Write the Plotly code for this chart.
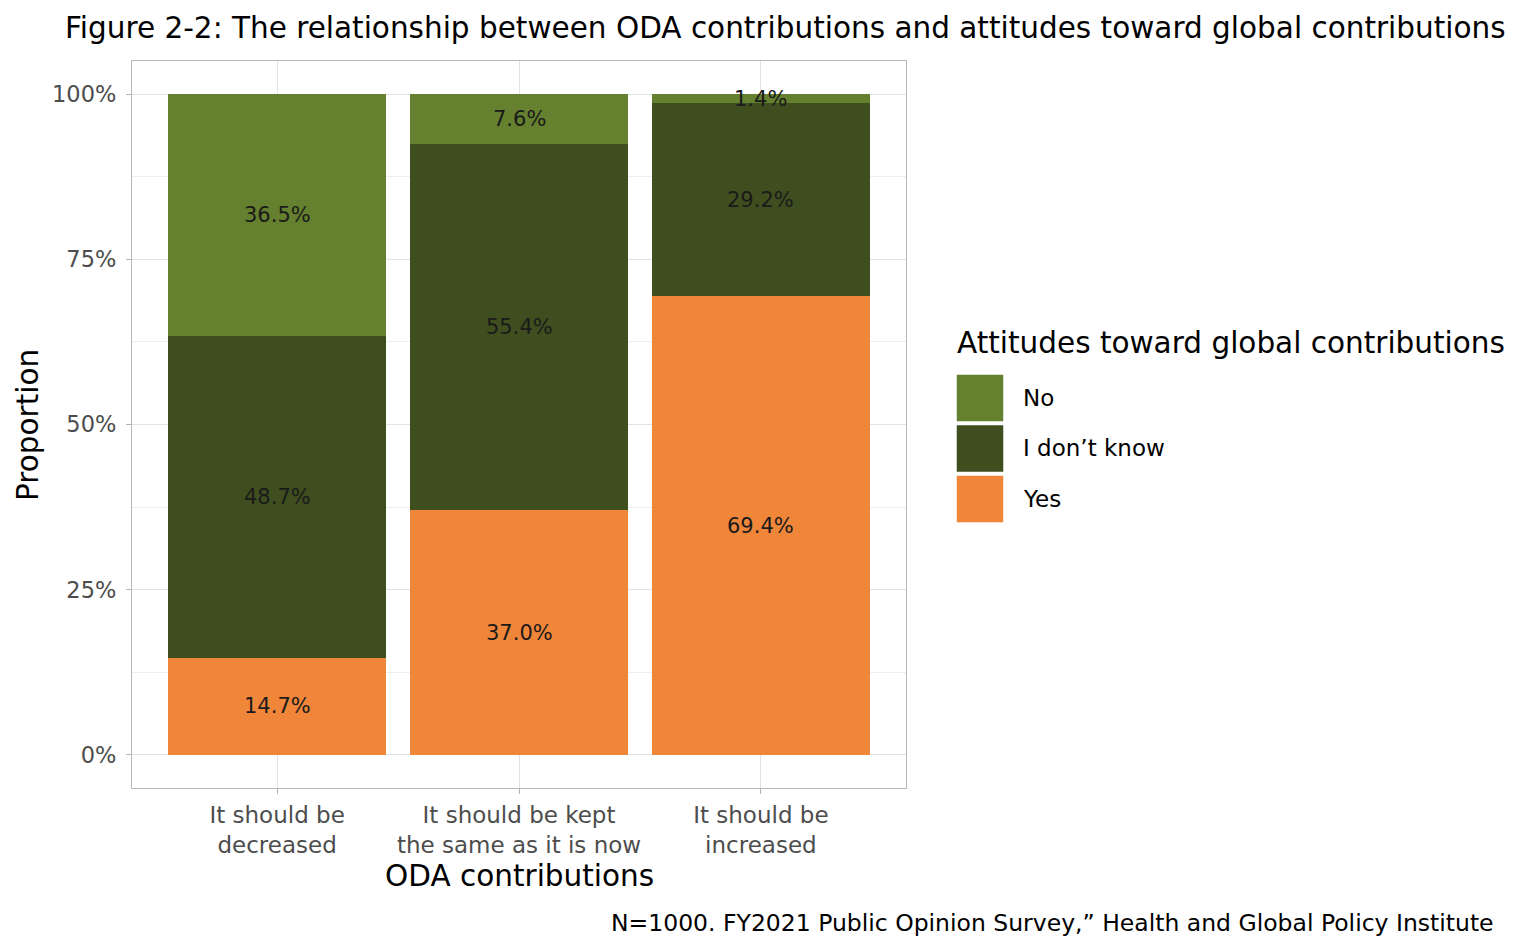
import plotly.graph_objects as go

categories = ["It should be<br>decreased", "It should be kept<br>the same as it is now", "It should be<br>increased"]
series_names = ["Yes", "I don\u2019t know", "No"]
yes_vals = [14.7, 37.0, 69.4]
idk_vals = [48.7, 55.4, 29.2]
no_vals = [36.5, 7.6, 1.4]
colors = {"Yes": "#f0863a", "I don\u2019t know": "#3e4e1f", "No": "#65802e"}
legend_order = ["No", "I don\u2019t know", "Yes"]
y_tickvals = [0, 0.25, 0.5, 0.75, 1.0]
y_ticktext = ["0%", "25%", "50%", "75%", "100%"]
y_minor = [0.125, 0.375, 0.625, 0.875]

FONT = "DejaVu Sans"
series_vals = [yes_vals, idk_vals, no_vals]
totals = [sum(v) for v in zip(*series_vals)]
xidx = list(range(len(categories)))

H, W = 949, 1536
ML, MR, MT, MB = 132, 630, 61, 161

def px_x(p):
    return (p - ML) / (W - ML - MR)

def px_y(p):
    return (H - MB - p) / (H - MT - MB)

fig = go.Figure()
annotations = []
cum = [0.0] * len(categories)
for name, vals in zip(series_names, series_vals):
    frac = [v / t for v, t in zip(vals, totals)]
    fig.add_trace(go.Bar(
        x=xidx, y=frac, name=name, marker=dict(color=colors[name], line=dict(width=0)),
        width=0.9, showlegend=False, hoverinfo="skip"))
    for i, (f, v) in enumerate(zip(frac, vals)):
        annotations.append(dict(x=i, y=cum[i] + f / 2, xref="x", yref="y", text=f"{v:.1f}%",
                                showarrow=False, font=dict(family=FONT, size=21, color="#1a1a1a")))
        cum[i] += f

fig.update_layout(
    width=W, height=H,
    barmode="stack",
    bargap=0,
    plot_bgcolor="white", paper_bgcolor="white",
    margin=dict(l=ML, r=MR, t=MT, b=MB),
    font=dict(family=FONT, size=22, color="#4d4d4d"),
    title=dict(text="Figure 2-2: The relationship between ODA contributions and attitudes toward global contributions",
               x=65 / W, xanchor="left", xref="container",
               y=1 - 28 / H, yanchor="middle", yref="container",
               font=dict(family=FONT, size=29.5, color="#000000")),
    xaxis=dict(range=[-0.6, 2.6], tickmode="array", tickvals=xidx, ticktext=categories,
               showgrid=True, gridcolor="#e3e3e3", gridwidth=1,
               showline=True, mirror=True, linecolor="#b8b8b8", linewidth=1.3,
               ticks="outside", ticklen=5, tickcolor="#b3b3b3", ticklabelstandoff=1,
               tickfont=dict(family=FONT, size=23, color="#4d4d4d"), zeroline=False),
    yaxis=dict(range=[-0.05, 1.05], tickmode="array", tickvals=y_tickvals, ticktext=y_ticktext,
               showgrid=True, gridcolor="#e3e3e3", gridwidth=1,
               minor=dict(tickvals=y_minor, showgrid=True, gridcolor="#eeeeee", gridwidth=1, ticks=""),
               showline=True, mirror=True, linecolor="#b8b8b8", linewidth=1.3,
               ticks="outside", ticklen=5, tickcolor="#b3b3b3", ticklabelstandoff=5,
               tickfont=dict(family=FONT, size=22.5, color="#4d4d4d"), zeroline=False),
)

annotations.append(dict(text="ODA contributions", x=px_x(519), y=px_y(876), xref="paper", yref="paper",
                        showarrow=False, xanchor="center", yanchor="middle",
                        font=dict(family=FONT, size=29.5, color="#000000")))
annotations.append(dict(text="Proportion", x=px_x(28), y=px_y(425), xref="paper", yref="paper",
                        showarrow=False, xanchor="center", yanchor="middle", textangle=-90,
                        font=dict(family=FONT, size=29.5, color="#000000")))
annotations.append(dict(text="N=1000. FY2021 Public Opinion Survey,\u201d Health and Global Policy Institute",
                        x=px_x(1496), y=px_y(923), xref="paper", yref="paper",
                        showarrow=False, xanchor="right", yanchor="middle",
                        font=dict(family=FONT, size=23.5, color="#000000")))
annotations.append(dict(text="Attitudes toward global contributions", x=px_x(955), y=px_y(343),
                        xref="paper", yref="paper", showarrow=False, xanchor="left", yanchor="middle",
                        font=dict(family=FONT, size=29.5, color="#000000")))
shapes = []
for k, name in enumerate(legend_order):
    top = 374 + k * 50.5
    shapes.append(dict(type="rect", xref="paper", yref="paper",
                       x0=px_x(956), x1=px_x(1004), y0=px_y(top + 48), y1=px_y(top),
                       fillcolor=colors[name], line=dict(color="white", width=1.5)))
    annotations.append(dict(text=name, x=px_x(1021), y=px_y(top + 24), xref="paper", yref="paper",
                            showarrow=False, xanchor="left", yanchor="middle",
                            font=dict(family=FONT, size=23, color="#000000")))

fig.update_layout(annotations=annotations, shapes=shapes)
fig.write_html("out.html", config={"displayModeBar": False},
               post_script="document.body.style.margin='0';document.body.style.padding='0';")
